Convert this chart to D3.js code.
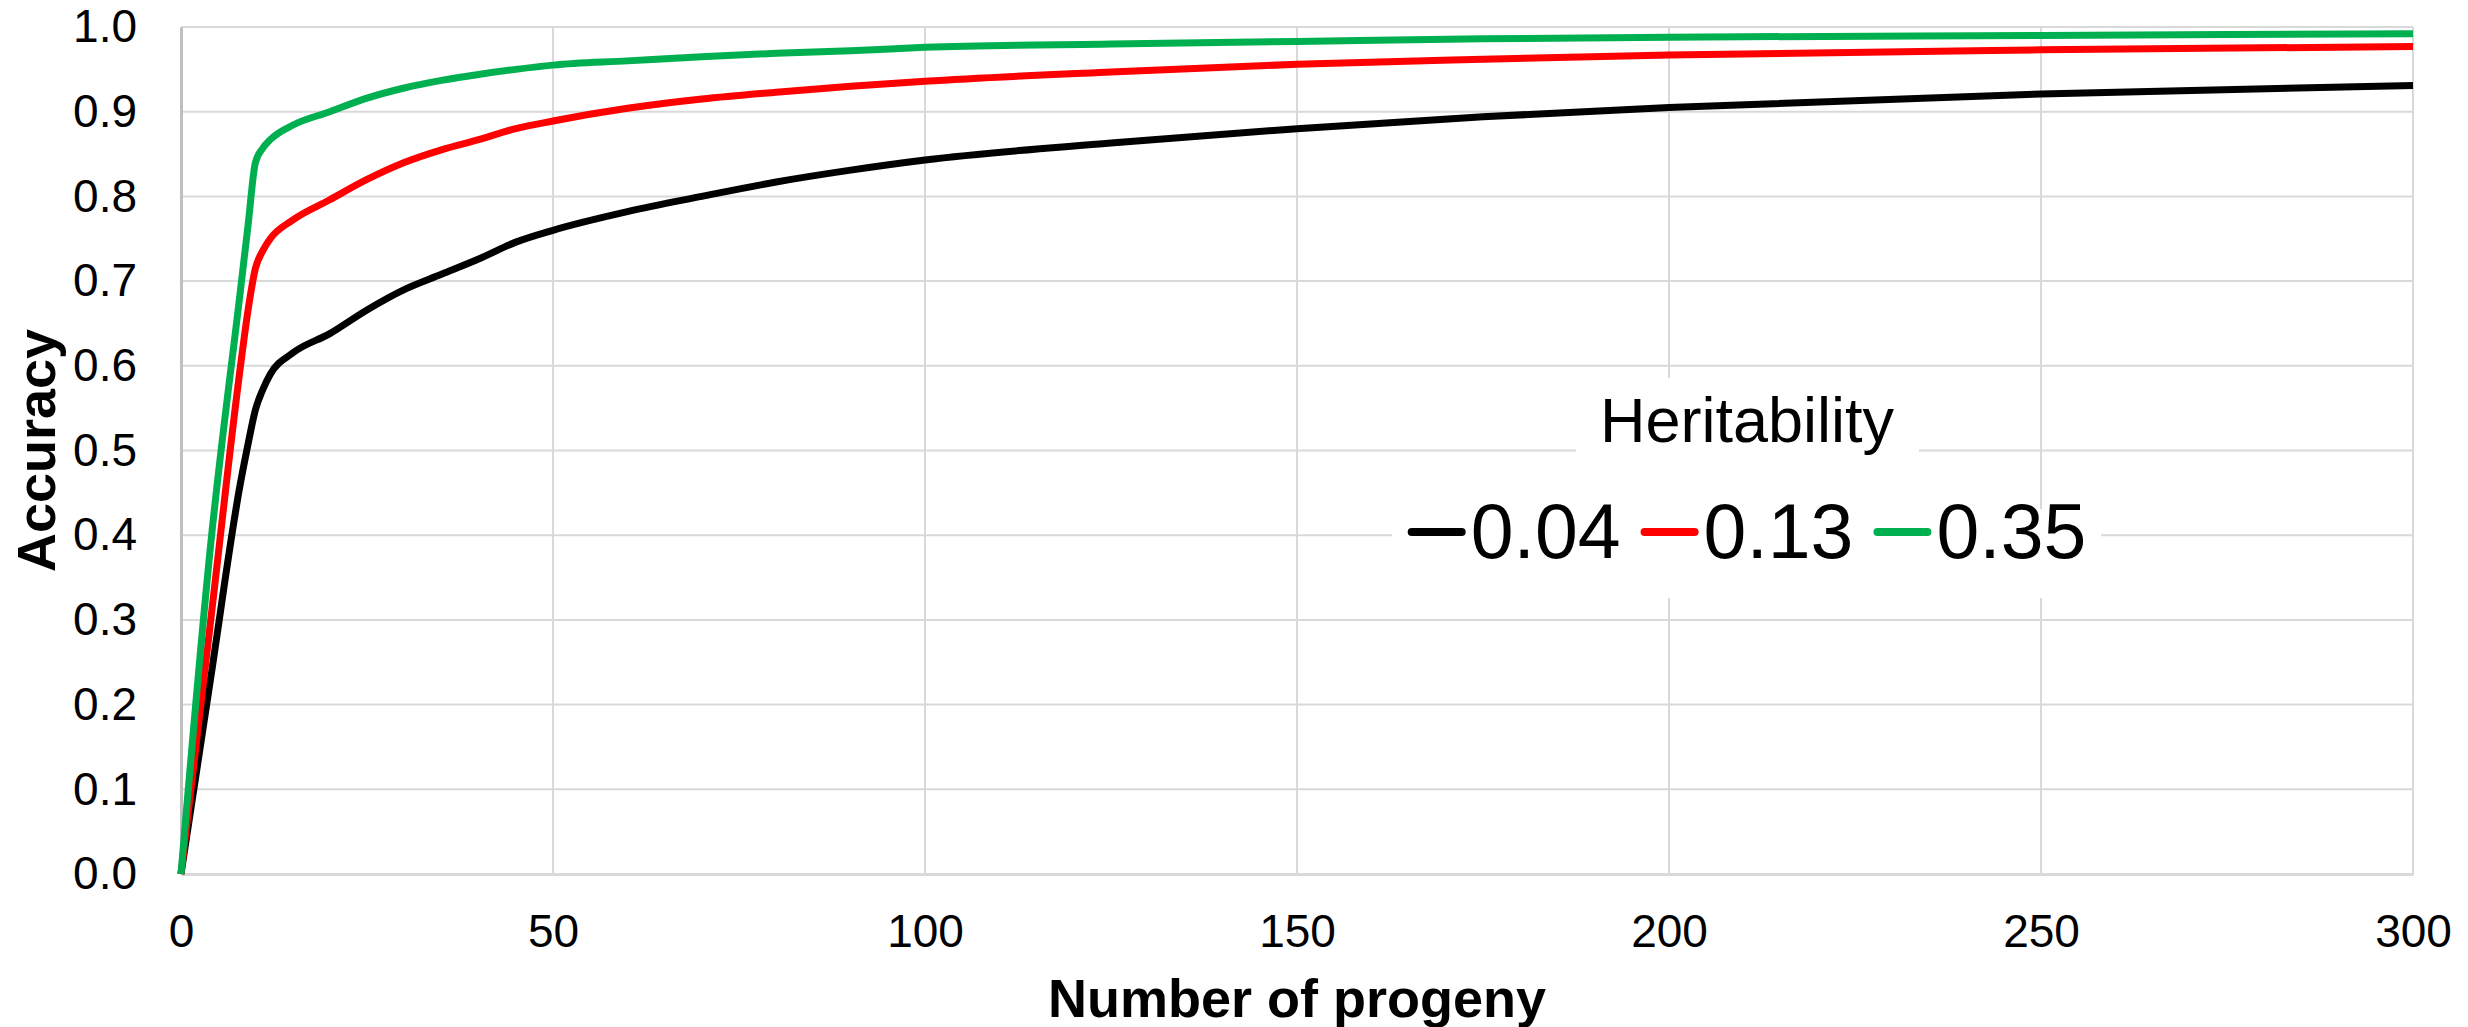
<!DOCTYPE html>
<html>
<head>
<meta charset="utf-8">
<script src="https://cdn.jsdelivr.net/npm/d3@7"></script>
<style>
  html, body { margin: 0; padding: 0; background: #fff; }
  svg { display: block; font-family: "Liberation Sans", Arial, sans-serif; }
</style>
</head>
<body>
<svg id="chart" width="2468" height="1027"></svg>
<script>
// ---- data ----
const progeny = [0, 4, 8, 9, 10, 11, 12, 15, 20, 25, 30, 35, 40, 45, 50, 60, 70, 80, 90, 100, 125, 150, 175, 200, 250, 300];
const acc004  = [0, 0.232, 0.462, 0.507, 0.548, 0.572, 0.590, 0.615, 0.638, 0.666, 0.690, 0.708, 0.726, 0.746, 0.760, 0.782, 0.800, 0.817, 0.831, 0.843, 0.863, 0.880, 0.894, 0.905, 0.921, 0.931];
const acc013  = [0, 0.300, 0.600, 0.665, 0.715, 0.736, 0.750, 0.772, 0.796, 0.820, 0.840, 0.855, 0.867, 0.880, 0.889, 0.904, 0.915, 0.923, 0.930, 0.936, 0.947, 0.956, 0.962, 0.967, 0.973, 0.977];
const acc035  = [0, 0.390, 0.690, 0.765, 0.840, 0.857, 0.867, 0.884, 0.900, 0.916, 0.928, 0.937, 0.944, 0.950, 0.955, 0.960, 0.965, 0.969, 0.972, 0.976, 0.980, 0.983, 0.986, 0.988, 0.990, 0.992];
const seriesNames = ["0.04", "0.13", "0.35"];
const seriesColors = ["#000000", "#FF0000", "#00B050"];
const xTicks = [0, 50, 100, 150, 200, 250, 300];
const yTicks = [0, 0.1, 0.2, 0.3, 0.4, 0.5, 0.6, 0.7, 0.8, 0.9, 1.0];
const xTitle = "Number of progeny";
const yTitle = "Accuracy";
const legendTitle = "Heritability";

// ---- layout ----
const svg = d3.select("#chart");
const pLeft = 181, pRight = 2413, pTop = 27, pBottom = 874;
const x = d3.scaleLinear().domain([0, 300]).range([pLeft, pRight]);
const y = d3.scaleLinear().domain([0, 1]).range([pBottom, pTop]);

svg.append("rect").attr("width", 2468).attr("height", 1027).attr("fill", "#fff");

// grid
const grid = svg.append("g");
grid.selectAll("line.h").data(yTicks.filter(d => d > 0)).enter().append("line")
  .attr("x1", pLeft).attr("x2", pRight)
  .attr("y1", d => y(d)).attr("y2", d => y(d))
  .attr("stroke", "#D9D9D9").attr("stroke-width", 2);
grid.selectAll("line.v").data(xTicks.filter(d => d > 0)).enter().append("line")
  .attr("x1", d => x(d)).attr("x2", d => x(d))
  .attr("y1", pTop).attr("y2", pBottom)
  .attr("stroke", "#D9D9D9").attr("stroke-width", 2);

// axes
const yAxis = d3.axisLeft(y).tickValues(yTicks).tickFormat(d3.format(".1f")).tickSize(0).tickPadding(44);
const gy = svg.append("g").attr("transform", `translate(${pLeft},0)`).call(yAxis);
gy.select(".domain").attr("stroke", "#BFBFBF").attr("stroke-width", 3);
gy.selectAll("text").attr("font-size", 46).attr("fill", "#000").attr("font-family", "Liberation Sans, Arial, sans-serif");

const xAxis = d3.axisBottom(x).tickValues(xTicks).tickFormat(d3.format("d")).tickSize(0).tickPadding(40);
const gx = svg.append("g").attr("transform", `translate(0,${pBottom})`).call(xAxis);
gx.select(".domain").attr("stroke", "#D9D9D9").attr("stroke-width", 3);
gx.selectAll("text").attr("font-size", 46).attr("fill", "#000").attr("font-family", "Liberation Sans, Arial, sans-serif");

// axis titles
svg.append("text").attr("x", (pLeft + pRight) / 2).attr("y", 1017)
  .attr("text-anchor", "middle").attr("font-size", 54).attr("font-weight", "bold").text(xTitle);
svg.append("text").attr("transform", `translate(55,${(pTop + pBottom) / 2}) rotate(-90)`)
  .attr("text-anchor", "middle").attr("font-size", 54).attr("font-weight", "bold").text(yTitle);

// lines
const series = [acc004, acc013, acc035];
const line = d3.line().x((d, i) => x(progeny[i])).y(d => y(d)).curve(d3.curveMonotoneX);
series.forEach((s, k) => {
  svg.append("path").datum(s).attr("d", line)
    .attr("fill", "none").attr("stroke", seriesColors[k])
    .attr("stroke-width", 7).attr("stroke-linejoin", "round").attr("stroke-linecap", "butt");
});

// legend
const lg = svg.append("g");
const lcx = 1747;
lg.append("rect").attr("x", 1576).attr("y", 378).attr("width", 343).attr("height", 131).attr("fill", "#fff");
lg.append("rect").attr("x", 1392).attr("y", 509).attr("width", 709).attr("height", 89).attr("fill", "#fff");
lg.append("text").attr("x", lcx).attr("y", 442).attr("text-anchor", "middle")
  .attr("font-size", 63).text(legendTitle);

const entries = lg.append("g");
let cx = 0;
seriesNames.forEach((name, k) => {
  entries.append("line").attr("x1", cx + 4).attr("x2", cx + 54).attr("y1", 532).attr("y2", 532)
    .attr("stroke", seriesColors[k]).attr("stroke-width", 8).attr("stroke-linecap", "round");
  const t = entries.append("text").attr("x", cx + 63).attr("y", 558).attr("font-size", 77).text(name);
  const w = t.node().getComputedTextLength();
  cx = cx + 63 + w + 20;
});
const totalW = cx - 20;
entries.attr("transform", `translate(${lcx - totalW / 2},0)`);
</script>
</body>
</html>
